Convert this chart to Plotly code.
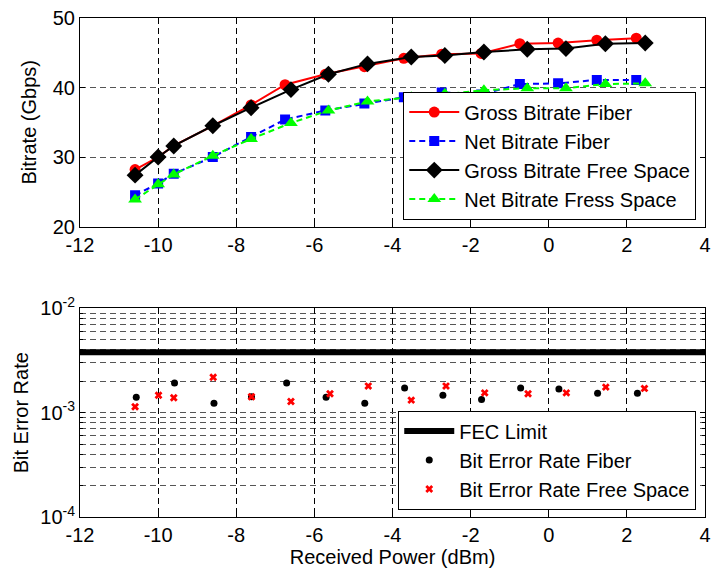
import plotly.graph_objects as go

# ---- Top plot data (Received power dBm vs bitrate Gbps) ----
x_fiber = [-10.59, -10.0, -9.6, -8.6, -7.62, -6.75, -5.72, -4.72, -3.71, -2.74, -1.73, -0.74, 0.24, 1.23, 2.24]
gross_fiber = [28.2, 30.0, 31.65, 34.5, 37.5, 40.4, 41.9, 43.0, 44.2, 44.8, 44.9, 46.3, 46.4, 46.8, 47.1]
net_fiber = [24.5, 26.2, 27.6, 30.0, 32.9, 35.4, 36.7, 37.7, 38.6, 39.3, 39.0, 40.5, 40.6, 41.1, 41.1]

x_fs = [-10.59, -10.0, -9.6, -8.6, -7.62, -6.6, -5.64, -4.64, -3.52, -2.66, -1.66, -0.55, 0.44, 1.45, 2.47]
gross_fs = [27.4, 30.0, 31.6, 34.5, 37.1, 39.7, 41.9, 43.4, 44.4, 44.6, 45.1, 45.5, 45.6, 46.3, 46.4]
net_fs = [23.9, 26.1, 27.5, 30.2, 32.6, 34.9, 36.7, 38.0, 38.6, 39.1, 39.6, 39.9, 39.9, 40.5, 40.6]

# ---- Bottom plot data (BER) ----
x_ber_fiber = [-10.56, -9.58, -8.57, -7.61, -6.71, -5.7, -4.71, -3.69, -2.71, -1.72, -0.72, 0.26, 1.25, 2.27]
ber_fiber = [1.41e-3, 1.93e-3, 1.23e-3, 1.42e-3, 1.93e-3, 1.41e-3, 1.23e-3, 1.73e-3, 1.47e-3, 1.34e-3, 1.73e-3, 1.69e-3, 1.54e-3, 1.54e-3]
x_ber_fs = [-10.59, -9.99, -9.6, -8.59, -7.61, -6.6, -5.6, -4.62, -3.52, -2.63, -1.64, -0.53, 0.45, 1.46, 2.45]
ber_fs = [1.14e-3, 1.47e-3, 1.39e-3, 2.19e-3, 1.42e-3, 1.28e-3, 1.52e-3, 1.80e-3, 1.32e-3, 1.80e-3, 1.55e-3, 1.52e-3, 1.55e-3, 1.76e-3, 1.71e-3]
fec_limit = 3.8e-3

x_range = [-12, 4]
x_ticks = [-12, -10, -8, -6, -4, -2, 0, 2, 4]
x_tick_text = ["-12", "-10", "-8", "-6", "-4", "-2", "0", "2", "4"]
top_y_ticks = [20, 30, 40, 50]
ber_major = [1e-4, 1e-3, 1e-2]
ber_major_text = ["10<sup>-4</sup>", "10<sup>-3</sup>", "10<sup>-2</sup>"]
ber_minor = [m * 1e-4 for m in range(2, 10)] + [m * 1e-3 for m in range(2, 10)]

FONT = "Arial, Liberation Sans, sans-serif"
FS = 20
DASH = "6px,4px"

fig = go.Figure()

fig.add_trace(go.Scatter(x=x_fiber, y=gross_fiber, name="Gross Bitrate Fiber", mode="lines+markers",
                         line=dict(color="#ff0000", width=2), marker=dict(symbol="circle", size=11, color="#ff0000"),
                         xaxis="x", yaxis="y", legend="legend"))
fig.add_trace(go.Scatter(x=x_fiber, y=net_fiber, name="Net Bitrate Fiber", mode="lines+markers",
                         line=dict(color="#0000ff", width=2, dash=DASH), marker=dict(symbol="square", size=10, color="#0000ff"),
                         xaxis="x", yaxis="y", legend="legend"))
fig.add_trace(go.Scatter(x=x_fs, y=gross_fs, name="Gross Bitrate Free Space", mode="lines+markers",
                         line=dict(color="#000000", width=2), marker=dict(symbol="diamond", size=13, color="#000000"),
                         xaxis="x", yaxis="y", legend="legend"))
fig.add_trace(go.Scatter(x=x_fs, y=net_fs, name="Net Bitrate Fress Space", mode="lines+markers",
                         line=dict(color="#00ff00", width=2, dash=DASH), marker=dict(symbol="triangle-up", size=12, color="#00ff00"),
                         xaxis="x", yaxis="y", legend="legend"))

fig.add_trace(go.Scatter(x=x_range, y=[fec_limit, fec_limit], name="FEC Limit", mode="lines",
                         line=dict(color="#000000", width=6), xaxis="x2", yaxis="y2", legend="legend2"))
fig.add_trace(go.Scatter(x=x_ber_fiber, y=ber_fiber, name="Bit Error Rate Fiber", mode="markers",
                         marker=dict(symbol="circle", size=7, color="#000000"),
                         xaxis="x2", yaxis="y2", legend="legend2"))
fig.add_trace(go.Scatter(x=x_ber_fs, y=ber_fs, name="Bit Error Rate Free Space", mode="markers",
                         marker=dict(symbol="x", size=7, color="#ff0000", line=dict(width=0)),
                         xaxis="x2", yaxis="y2", legend="legend2"))

axis_common = dict(showline=True, linecolor="black", linewidth=1, mirror="ticks", ticks="inside",
                   ticklen=5, tickcolor="black", tickfont=dict(family=FONT, size=FS, color="black"),
                   zeroline=False, showgrid=True, gridwidth=1, griddash=DASH, ticklabeloverflow="allow")
x_common = dict(axis_common, gridcolor="#000000")
y_common = dict(axis_common, gridcolor="#555555")

fig.update_layout(
    width=715, height=575,
    margin=dict(l=80, r=4, t=14, b=58),
    paper_bgcolor="white", plot_bgcolor="white",
    font=dict(family=FONT, size=FS, color="black"),
    xaxis=dict(domain=[0, 1], range=x_range, tickvals=x_ticks, ticktext=x_tick_text, anchor="y", **x_common),
    yaxis=dict(domain=[0.582, 1], range=[20, 50], tickvals=top_y_ticks, anchor="x",
               title=dict(text="Bitrate (Gbps)", font=dict(family=FONT, size=FS), standoff=10), **y_common),
    xaxis2=dict(domain=[0, 1], range=x_range, tickvals=x_ticks, ticktext=x_tick_text, anchor="y2",
                title=dict(text="Received Power (dBm)", font=dict(family=FONT, size=FS), standoff=4), **x_common),
    yaxis2=dict(domain=[0, 0.418], type="log", range=[-4, -2], tickvals=ber_major, ticktext=ber_major_text, anchor="x2",
                title=dict(text="Bit Error Rate", font=dict(family=FONT, size=FS), standoff=6),
                minor=dict(tickvals=ber_minor, showgrid=True, gridcolor="#555555", griddash=DASH, ticks="inside",
                           ticklen=3, tickcolor="black"),
                **y_common),
    legend=dict(x=0.986, y=0.596, xanchor="right", yanchor="bottom", bgcolor="white", itemwidth=50,
                bordercolor="black", borderwidth=1, font=dict(family=FONT, size=FS), tracegroupgap=0),
    legend2=dict(x=0.986, y=0.015, xanchor="right", yanchor="bottom", bgcolor="white", itemwidth=50,
                 bordercolor="black", borderwidth=1, font=dict(family=FONT, size=FS), tracegroupgap=0),
    showlegend=True,
)

fig.write_html("out.html")
